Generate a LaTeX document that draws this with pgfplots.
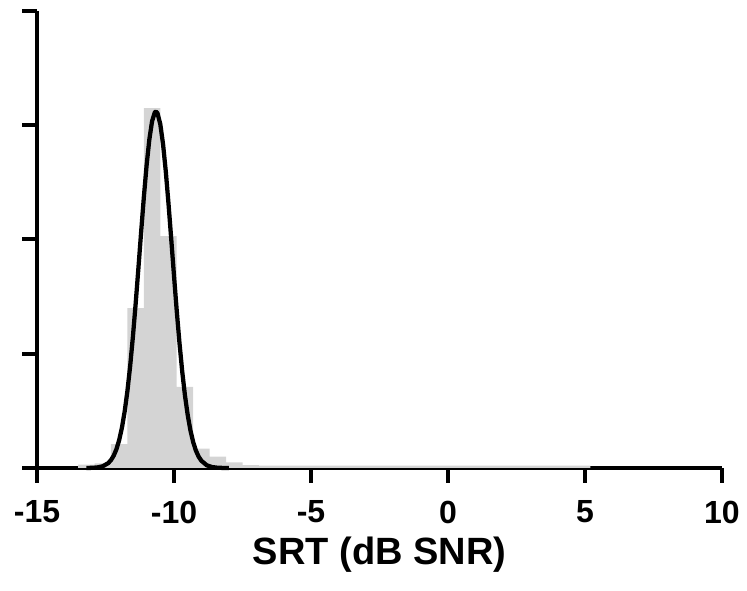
\documentclass[border=0pt]{standalone}
\usepackage{pgfplots}
\pgfplotsset{compat=1.18}
\usepackage{fontspec}
\setmainfont{Liberation Sans}
\definecolor{histgray}{RGB}{212,212,212}

\begin{document}
\begin{tikzpicture}
\begin{axis}[
  name=ax,
  scale only axis,
  width=513.75pt,
  height=342.75pt,
  xmin=-15, xmax=10,
  ymin=0, ymax=4,
  axis x line=bottom,
  axis y line=left,
  axis line style={-, line width=3.4pt},
  every tick/.style={black, line width=3pt},
  major tick length=11pt,
  tick align=outside,
  xtick={-15,-10,-5,0,5,10},
  xticklabels={-15,-10,-5,0,5,10},
  ytick={0,1,2,3,4},
  yticklabels={},
  xticklabel style={font=\bfseries\fontsize{24}{24}\selectfont, yshift=-10pt},
  xlabel={SRT (dB SNR)},
  xlabel style={font=\bfseries\fontsize{28.5}{28.5}\selectfont, yshift=-3.5pt},
  clip=false,
]
% histogram (bin edges, height of bin starting at edge)
\addplot[ybar interval, fill=histgray, draw=none] coordinates {
  (-13.5,0.03) (-12.9,0.04) (-12.3,0.21) (-11.7,1.40) (-11.1,3.15)
  (-10.5,2.03) (-9.9,0.71) (-9.3,0.17) (-8.7,0.10) (-8.1,0.05)
  (-7.5,0.025) (-6.9,0.02) (5.2,0)
};
% fitted normal curve
\addplot[black, line width=3.2pt, line join=round] coordinates {
  (-13.2,0.0003) (-13.0,0.0013) (-12.8,0.0047) (-12.6,0.0151) (-12.4,0.0428)
  (-12.3,0.069) (-12.2,0.108) (-12.1,0.165) (-12.0,0.245) (-11.9,0.353)
  (-11.8,0.495) (-11.7,0.674) (-11.6,0.892) (-11.5,1.148) (-11.4,1.436)
  (-11.3,1.746) (-11.2,2.064) (-11.1,2.371) (-11.0,2.649) (-10.9,2.875)
  (-10.8,3.035) (-10.7,3.113) (-10.66,3.12) (-10.6,3.104) (-10.5,3.009)
  (-10.4,2.835) (-10.3,2.597) (-10.2,2.312) (-10.1,2.001) (-10.0,1.683)
  (-9.9,1.376) (-9.8,1.094) (-9.7,0.845) (-9.6,0.635) (-9.5,0.464)
  (-9.4,0.329) (-9.3,0.227) (-9.2,0.152) (-9.1,0.099) (-9.0,0.063)
  (-8.8,0.023) (-8.6,0.0076) (-8.4,0.0022) (-8.2,0.0005) (-8.0,0.0001)
};
\end{axis}
\pgfresetboundingbox
\path[use as bounding box] ([xshift=-27.75pt,yshift=-92.25pt]ax.south west)
  rectangle ([xshift=-27.75pt,yshift=351pt]ax.south west) ++(560.25pt,0pt);
\end{tikzpicture}
\end{document}
